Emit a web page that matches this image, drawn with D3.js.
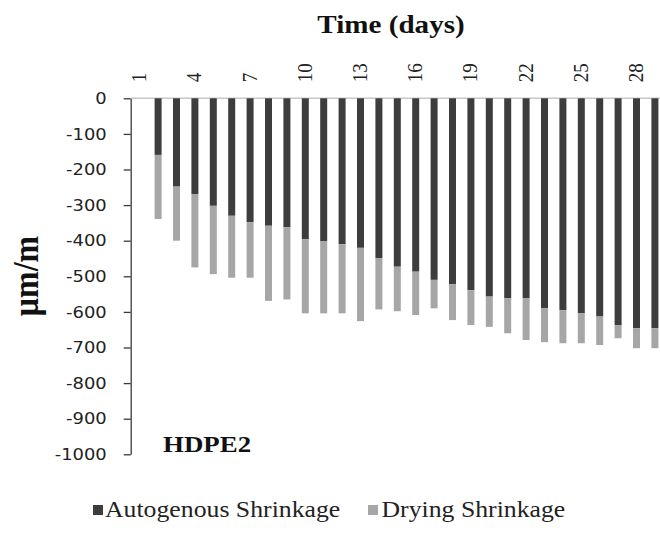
<!DOCTYPE html>
<html>
<head>
<meta charset="utf-8">
<script src="https://cdn.jsdelivr.net/npm/d3@7"></script>
<style>
  html, body { margin: 0; padding: 0; background: #fff; }
  svg { display: block; }
</style>
</head>
<body>
<svg id="chart" width="660" height="536"></svg>
<script>
// ---- data ----
const days = d3.range(1, 30);
const autogenous = [0, -159, -248, -269, -302, -330, -348, -358, -362, -396, -402, -410, -420, -449, -473,
  -487, -510, -522, -539, -557, -562, -562, -590, -595, -604, -613, -637, -646, -646];
const drying = [0, -180, -152, -206, -192, -174, -156, -211, -203, -208, -202, -194, -206, -144, -125,
  -122, -80, -101, -98, -85, -98, -117, -95, -93, -84, -80, -37, -56, -56];
const xTickLabels = [1, 4, 7, 10, 13, 16, 19, 22, 25, 28];
const yTicks = [0, -100, -200, -300, -400, -500, -600, -700, -800, -900, -1000];
const seriesNames = ["Autogenous Shrinkage", "Drying Shrinkage"];
const colors = ["#3d3d3d", "#a6a6a6"];

const rows = days.map((d, i) => ({ day: d, auto: autogenous[i], dry: drying[i] }));

const svg = d3.select("#chart");
const SX = 1.12; // horizontal stretch of the original picture's text
const SERIF = "'Liberation Serif', 'Times New Roman', serif";

const x = d3.scaleBand().domain(days).range([130.5, 664.1]).paddingInner(0.62).paddingOuter(0.31);
const y = d3.scaleLinear().domain([-1000, 0]).range([454.3, 98.3]);

const stack = d3.stack().keys(["auto", "dry"]).offset(d3.stackOffsetDiverging);
const stacked = stack(rows);

// zero line (top category axis)
svg.append("line")
  .attr("x1", 131).attr("x2", 660)
  .attr("y1", y(0)).attr("y2", y(0))
  .attr("stroke", "#c8c8c8").attr("stroke-width", 1.5);

// bars
svg.append("g").selectAll("g").data(stacked).join("g")
  .attr("fill", (d, i) => colors[i])
  .selectAll("rect").data(d => d).join("rect")
  .attr("x", d => x(d.data.day))
  .attr("width", x.bandwidth())
  .attr("y", d => y(Math.max(d[0], d[1])))
  .attr("height", d => Math.abs(y(d[0]) - y(d[1])));

// left axis
const yAxis = d3.axisLeft(y).tickValues(yTicks).tickFormat(d => String(d))
  .tickSize(7).tickSizeOuter(0).tickPadding(10);
const gy = svg.append("g").attr("transform", "translate(130.7,0)").call(yAxis);
gy.select(".domain").attr("stroke", "#3a3a3a").attr("stroke-width", 1.3);
gy.selectAll(".tick line").attr("stroke", "#3a3a3a").attr("stroke-width", 1.3);
gy.selectAll(".tick text")
  .attr("font-family", "'DejaVu Sans', Verdana, sans-serif")
  .attr("font-size", 16)
  .attr("fill", "#222")
  .each(function () {
    const t = d3.select(this);
    const xx = +t.attr("x");
    t.attr("x", null).attr("transform", `translate(${xx - 7},0) scale(${SX},1)`);
  });

// top axis tick labels (rotated)
const xAxis = d3.axisTop(x).tickValues(xTickLabels).tickSize(0).tickSizeOuter(0);
const gx = svg.append("g").attr("transform", `translate(0,${y(0)})`).call(xAxis);
gx.select(".domain").remove();
gx.selectAll(".tick text")
  .attr("font-family", SERIF)
  .attr("font-size", 19)
  .attr("fill", "#222")
  .attr("text-anchor", "start")
  .attr("x", 0).attr("y", 0).attr("dy", null)
  .attr("transform", `translate(6.5,-16) rotate(-90) scale(1,${SX})`);

// axis titles
svg.append("text")
  .attr("transform", `translate(391,33) scale(${SX},1)`)
  .attr("text-anchor", "middle")
  .attr("font-family", SERIF)
  .attr("font-weight", "bold").attr("font-size", 26)
  .attr("fill", "#111")
  .text("Time (days)");

svg.append("text")
  .attr("transform", `translate(38,276) rotate(-90) scale(1,${SX})`)
  .attr("text-anchor", "middle")
  .attr("font-family", SERIF)
  .attr("font-weight", "bold").attr("font-size", 32)
  .attr("fill", "#111")
  .text("μm/m");

// series label
svg.append("text")
  .attr("transform", `translate(163,452) scale(${SX},1)`)
  .attr("font-family", SERIF)
  .attr("font-weight", "bold").attr("font-size", 24)
  .attr("fill", "#111")
  .text("HDPE2");

// legend
const legendItems = [
  { name: seriesNames[0], color: colors[0], sx: 93, tx: 105 },
  { name: seriesNames[1], color: colors[1], sx: 368, tx: 381.5 }
];
const lg = svg.append("g");
legendItems.forEach(it => {
  lg.append("rect").attr("x", it.sx).attr("y", 505).attr("width", 10).attr("height", 10).attr("fill", it.color);
  lg.append("text")
    .attr("transform", `translate(${it.tx},517) scale(${SX},1)`)
    .attr("font-family", SERIF)
    .attr("font-size", 23)
    .attr("fill", "#222")
    .text(it.name);
});
</script>
</body>
</html>
